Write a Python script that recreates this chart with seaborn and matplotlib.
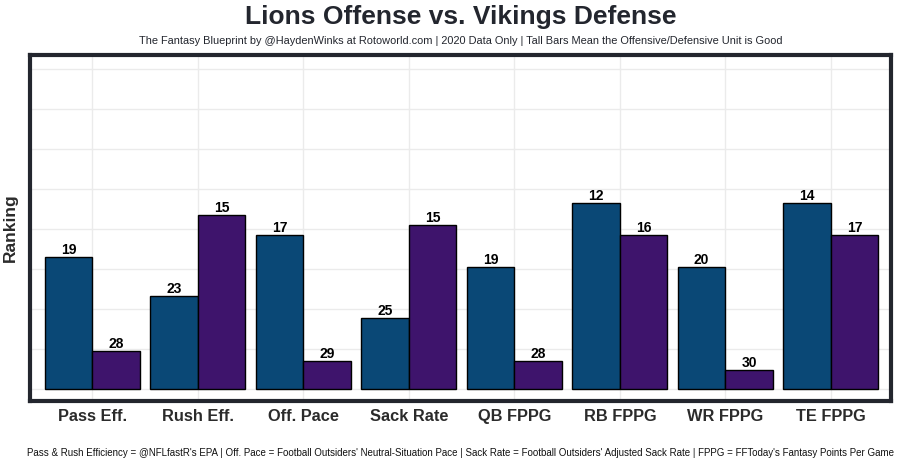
import pandas as pd
import seaborn as sns
import matplotlib.pyplot as plt

# chart values
categories = ["Pass Eff.", "Rush Eff.", "Off. Pace", "Sack Rate",
              "QB FPPG", "RB FPPG", "WR FPPG", "TE FPPG"]
lions_height = [16.5, 11.65, 19.2, 8.85, 15.3, 23.3, 15.3, 23.3]
vikings_height = [4.8, 21.7, 3.6, 20.5, 3.6, 19.3, 2.4, 19.3]
lions_rank = [19, 23, 17, 25, 19, 12, 20, 14]
vikings_rank = [28, 15, 29, 15, 28, 16, 30, 17]

df = pd.DataFrame({
    "Metric": categories * 2,
    "Value": lions_height + vikings_height,
    "Unit": ["Lions"] * len(categories) + ["Vikings"] * len(categories),
})

sns.set_style("white")
plt.rcParams["font.family"] = ["Liberation Sans", "DejaVu Sans"]

fig = plt.figure(figsize=(9, 4.67), dpi=100)
ax = fig.add_axes([0.0333, 0.1413, 0.9567, 0.7409])

sns.barplot(data=df, x="Metric", y="Value", hue="Unit", order=categories,
            palette=["#0A4876", "#3E146C"], width=0.9, edgecolor="black",
            linewidth=1, saturation=1, legend=False, ax=ax)

# grid behind the bars, both directions
ax.set_axisbelow(True)
ax.xaxis.grid(True, color="#EBEBEB", linewidth=1)
ax.yaxis.grid(True, color="#EBEBEB", linewidth=1)

ax.bar_label(ax.containers[0], labels=lions_rank, padding=0,
             fontsize=10, fontweight="bold", color="black")
ax.bar_label(ax.containers[1], labels=vikings_rank, padding=0,
             fontsize=10, fontweight="bold", color="black")

ax.set_xlim(-0.59, 7.57)
ax.set_ylim(-1.44, 41.7)
ax.set_yticks(range(0, 41, 5))
ax.set_yticklabels([])
ax.tick_params(axis="y", length=0)
ax.tick_params(axis="x", length=3, color="#555555", labelsize=11.8, pad=3,
               labelcolor="#2B2B2B")
for lab in ax.get_xticklabels():
    lab.set_fontweight("bold")

for sp in ax.spines.values():
    sp.set_visible(True)
    sp.set_color("#23262E")
    sp.set_linewidth(3)

ax.set_xlabel("")
ax.set_ylabel("Ranking", fontsize=12.5, fontweight="bold", color="#2B2B2B",
              labelpad=5)

cx = 0.0333 + 0.9567 / 2
fig.text(cx, 1 - 17 / 467, "Lions Offense vs. Vikings Defense", ha="center",
         va="center", fontsize=19, fontweight="bold", color="#23262E")
fig.text(cx, 1 - 41 / 467,
         "The Fantasy Blueprint by @HaydenWinks at Rotoworld.com | 2020 Data Only | "
         "Tall Bars Mean the Offensive/Defensive Unit is Good",
         ha="center", va="center", fontsize=7.9, color="#23262E")
fig.text(cx, 1 - 453 / 467,
         "Pass & Rush Efficiency = @NFLfastR's EPA | Off. Pace = Football Outsiders' "
         "Neutral-Situation Pace | Sack Rate = Football Outsiders' Adjusted Sack Rate | "
         "FPPG = FFToday's Fantasy Points Per Game",
         ha="center", va="center", fontsize=7.0, color="#111111")

plt.savefig("out.png", dpi=100)
